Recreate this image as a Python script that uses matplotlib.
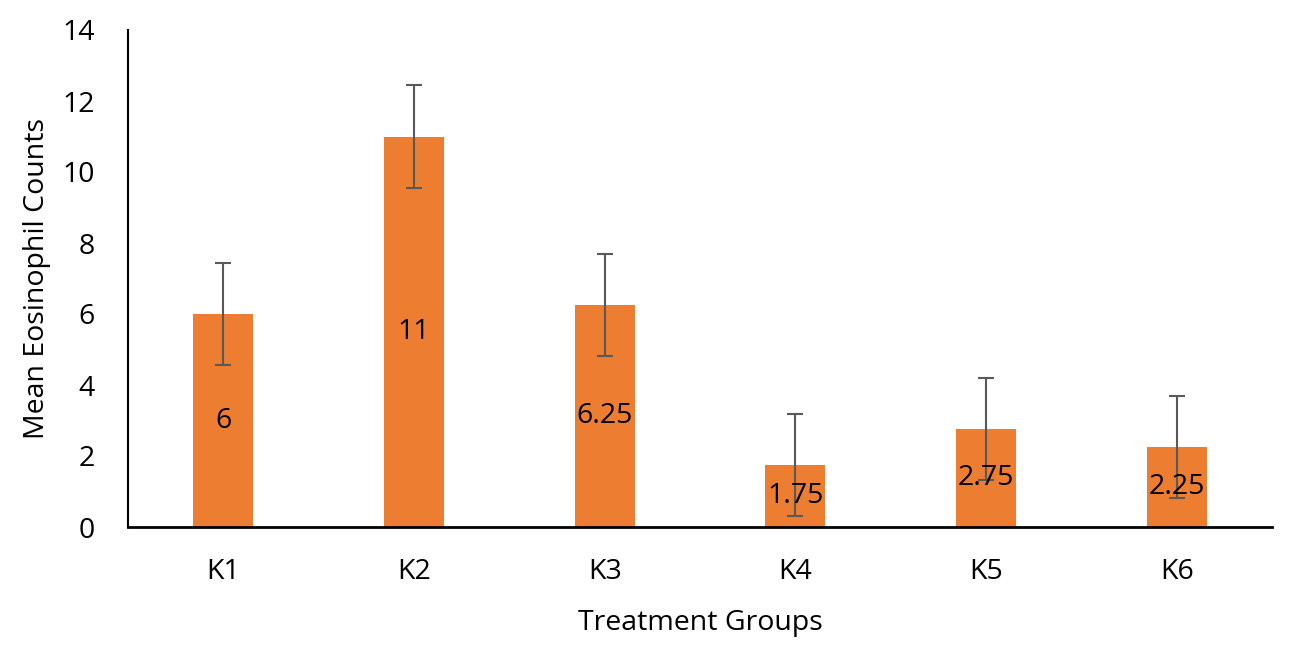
import numpy as np
import matplotlib.pyplot as plt

plt.rcParams['font.family'] = ['Open Sans', 'DejaVu Sans']

groups = ['K1', 'K2', 'K3', 'K4', 'K5', 'K6']
means = [6, 11, 6.25, 1.75, 2.75, 2.25]
errors = [1.44, 1.44, 1.44, 1.44, 1.44, 1.44]
labels = ['6', '11', '6.25', '1.75', '2.75', '2.25']

fig = plt.figure(figsize=(12.97, 6.45), dpi=100)
ax = fig.add_axes([128/1297, 118/645, (1272-128)/1297, (527-30)/645])

x = np.arange(len(groups))
bars = ax.bar(x, means, width=0.315, color='#ED7D31', zorder=2)
ax.errorbar(x, means, yerr=errors, fmt='none', ecolor='#595959',
            elinewidth=1.5, capsize=6, capthick=1.5, zorder=3)

# value labels sit in the middle of each bar
for xi, m, lab in zip(x, means, labels):
    ax.text(xi, m/2, lab, ha='center', va='center', fontsize=20.5, color='black', zorder=4)

ax.set_xlim(-0.5, 5.5)
ax.set_ylim(0, 14)
ax.set_yticks(range(0, 15, 2))
ax.set_xticks(x)
ax.set_xticklabels(groups)
ax.tick_params(axis='both', length=0, labelsize=20.5)
ax.tick_params(axis='x', pad=22)
ax.tick_params(axis='y', pad=24)

ax.spines['top'].set_visible(False)
ax.spines['right'].set_visible(False)
ax.spines['left'].set_linewidth(1.5)
ax.spines['bottom'].set_linewidth(2)

ax.set_xlabel('Treatment Groups', fontsize=20.5, labelpad=17)
ax.set_ylabel('Mean Eosinophil Counts', fontsize=20.5, labelpad=8)

plt.savefig('out.png', dpi=100)
